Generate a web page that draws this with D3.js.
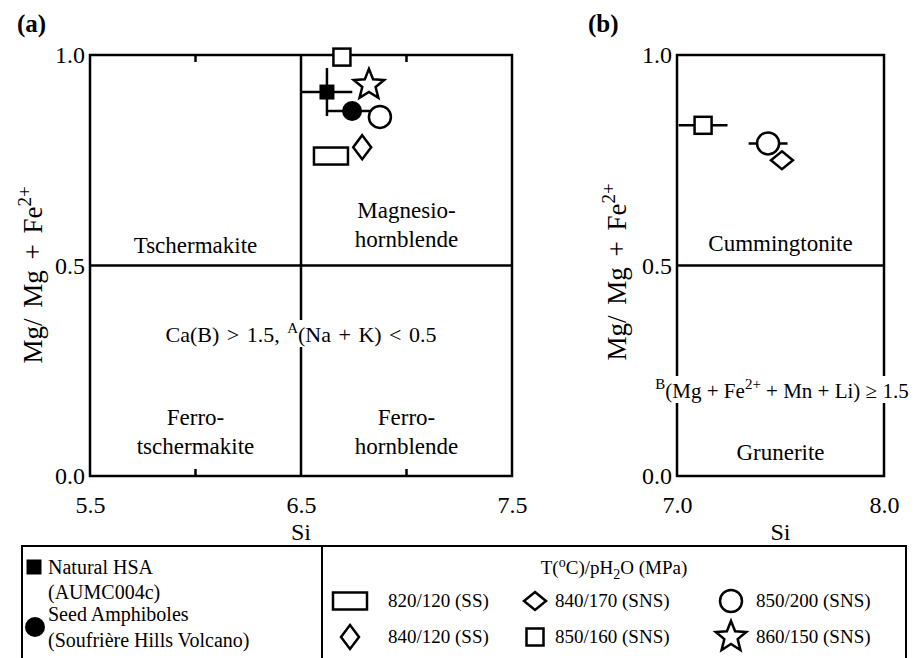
<!DOCTYPE html>
<html>
<head>
<meta charset="utf-8">
<script src="https://cdn.jsdelivr.net/npm/d3@7"></script>
<style>
  body { margin: 0; background: #fff; }
  svg text { font-family: "Liberation Serif", "Times New Roman", "DejaVu Serif", serif !important; fill: #000; }
</style>
</head>
<body>
<div id="chart"></div>
<script>
// series (one entry per experiment / sample)
var seriesNames = ["Natural HSA", "Seed Amphiboles", "820/120 (SS)", "840/120 (SS)", "840/170 (SNS)", "850/160 (SNS)", "850/200 (SNS)", "860/150 (SNS)"];
var seriesShapes = ["fsq", "fcirc", "rect", "tdia", "wdia", "sq", "circ", "star"];

// panel (a): calcic amphiboles
var aSi    = [6.623, 6.742, 6.642, 6.79, null, 6.694, 6.874, 6.822];
var aMg    = [0.912, 0.867, 0.760, 0.781, null, 0.995, 0.853, 0.929];
var aSiErr = [0.12, 0.115, 0, 0, 0, 0, 0, 0];
var aMgErr = [0.057, 0, 0, 0, 0, 0, 0, 0];

// panel (b): Fe-Mg amphiboles
var bSi    = [null, null, null, null, 7.507, 7.126, 7.44, null];
var bMg    = [null, null, null, null, 0.75, 0.833, 0.79, null];
var bSiErr = [0, 0, 0, 0, 0, 0.118, 0.094, 0];

var aXTicks = [5.5, 6.5, 7.5];
var aMinorTicks = [6.0, 7.0];
var bXTicks = [7.0, 8.0];
var yTicks = [0.0, 0.5, 1.0];

var width = 923, height = 658;
var svg = d3.select("#chart").append("svg")
    .attr("width", width)
    .attr("height", height);

var xA = d3.scaleLinear().domain([5.5, 7.5]).range([90, 512]);
var xB = d3.scaleLinear().domain([7.0, 8.0]).range([677, 884]);
var y = d3.scaleLinear().domain([0, 1]).range([476, 55]);

var SW = 2.5;

function drawMark(g, shape, cx, cy) {
    var p;
    if (shape == "fsq") {
        g.append("rect").attr("x", cx - 7.5).attr("y", cy - 7.5).attr("width", 15).attr("height", 15).attr("fill", "#000");
    } else if (shape == "fcirc") {
        g.append("circle").attr("cx", cx).attr("cy", cy).attr("r", 10).attr("fill", "#000");
    } else if (shape == "rect") {
        g.append("rect").attr("x", cx - 17).attr("y", cy - 8.5).attr("width", 34).attr("height", 17)
            .attr("fill", "#fff").attr("stroke", "#000").attr("stroke-width", SW);
    } else if (shape == "sq") {
        g.append("rect").attr("x", cx - 8.5).attr("y", cy - 8.5).attr("width", 17).attr("height", 17)
            .attr("fill", "#fff").attr("stroke", "#000").attr("stroke-width", SW);
    } else if (shape == "circ") {
        g.append("circle").attr("cx", cx).attr("cy", cy).attr("r", 11)
            .attr("fill", "#fff").attr("stroke", "#000").attr("stroke-width", SW);
    } else if (shape == "tdia" || shape == "wdia") {
        var w = shape == "tdia" ? 9 : 11, h = shape == "tdia" ? 12 : 9;
        p = d3.path();
        p.moveTo(cx, cy - h); p.lineTo(cx + w, cy); p.lineTo(cx, cy + h); p.lineTo(cx - w, cy); p.closePath();
        g.append("path").attr("d", p.toString()).attr("fill", "#fff").attr("stroke", "#000").attr("stroke-width", SW);
    } else if (shape == "star") {
        var pts = [];
        for (var i = 0; i < 10; i++) {
            var r = i % 2 == 0 ? 16 : 7;
            var a = -Math.PI / 2 + i * Math.PI / 5;
            pts.push([cx + r * Math.cos(a), cy + r * Math.sin(a)]);
        }
        g.append("path").attr("d", d3.line()(pts) + "Z")
            .attr("fill", "#fff").attr("stroke", "#000").attr("stroke-width", SW).attr("stroke-linejoin", "miter");
    }
}

function yLabel(x, cy) {
    var t = svg.append("text")
        .attr("transform", "translate(" + x + "," + cy + ") rotate(-90)")
        .attr("text-anchor", "middle")
        .style("font-size", "27px")
        .style("word-spacing", "4px");
    t.append("tspan").text("Mg/ Mg + Fe");
    t.append("tspan").attr("dy", -11).style("font-size", "19px").text("2+");
}

function panelFrame(x, xTicks, innerTicks) {
    var g = svg.append("g");
    var x0 = x.range()[0], x1 = x.range()[1];
    g.append("rect").attr("x", x0).attr("y", y(1)).attr("width", x1 - x0).attr("height", y(0) - y(1))
        .attr("fill", "none").attr("stroke", "#000").attr("stroke-width", SW);
    g.append("line").attr("x1", x0).attr("x2", x1).attr("y1", y(0.5)).attr("y2", y(0.5))
        .attr("stroke", "#000").attr("stroke-width", SW);

    // tick labels via axes
    var xa = svg.append("g").attr("transform", "translate(0," + y(0) + ")")
        .call(d3.axisBottom(x).tickValues(xTicks).tickSize(0).tickPadding(20).tickFormat(d3.format(".1f")));
    var ya = svg.append("g").attr("transform", "translate(" + x0 + ",0)")
        .call(d3.axisLeft(y).tickValues(yTicks).tickSize(0).tickPadding(5).tickFormat(d3.format(".1f")));
    [xa, ya].forEach(function(a) {
        a.select(".domain").remove();
        a.selectAll("text").style("font-size", "24px").attr("fill", "#000");
    });

    // small inward ticks on top and bottom edges
    if (innerTicks) {
        innerTicks.forEach(function(v) {
            g.append("line").attr("x1", x(v)).attr("x2", x(v)).attr("y1", y(0)).attr("y2", y(0) - 7)
                .attr("stroke", "#000").attr("stroke-width", SW);
            g.append("line").attr("x1", x(v)).attr("x2", x(v)).attr("y1", y(1)).attr("y2", y(1) + 7)
                .attr("stroke", "#000").attr("stroke-width", SW);
        });
    }

    svg.append("text").attr("x", (x0 + x1) / 2).attr("y", 540).attr("text-anchor", "middle")
        .style("font-size", "24px").text("Si");
    return g;
}

// ---------- panel (a) ----------
svg.append("text").attr("x", 17).attr("y", 32).style("font-size", "25px").style("font-weight", "bold").text("(a)");
panelFrame(xA, aXTicks, aMinorTicks);
svg.append("line").attr("x1", xA(6.5)).attr("x2", xA(6.5)).attr("y1", y(0)).attr("y2", y(1))
    .attr("stroke", "#000").attr("stroke-width", SW);
yLabel(42, 275);

function regionLabel(lines, cx, cy, size) {
    var t = svg.append("text").attr("text-anchor", "middle").style("font-size", size + "px");
    lines.forEach(function(l, i) {
        t.append("tspan").attr("x", cx).attr("y", cy + i * 29).text(l);
    });
}
regionLabel(["Tschermakite"], xA(6.0), 253, 23);
regionLabel(["Magnesio-", "hornblende"], xA(7.0), 218, 23);
regionLabel(["Ferro-", "tschermakite"], xA(6.0), 425, 23);
regionLabel(["Ferro-", "hornblende"], xA(7.0), 425, 23);

var caG = svg.append("g");
var caBg = caG.append("rect").attr("fill", "#fff");
var ca = caG.append("text").attr("x", xA(6.5)).attr("y", 342).attr("text-anchor", "middle")
    .style("font-size", "22px").style("word-spacing", "2px");
ca.append("tspan").text("Ca(B) > 1.5, ");
ca.append("tspan").attr("dy", -9).style("font-size", "15px").text("A");
ca.append("tspan").attr("dy", 9).text("(Na + K) < 0.5");
var cb = ca.node().getBBox();
caBg.attr("x", cb.x - 2).attr("y", cb.y).attr("width", cb.width + 4).attr("height", cb.height);

var gA = svg.append("g");
seriesNames.forEach(function(n, i) {
    if (aSi[i] == null) return;
    var cx = xA(aSi[i]), cy = y(aMg[i]);
    if (aSiErr[i]) gA.append("line").attr("x1", xA(aSi[i] - aSiErr[i])).attr("x2", xA(aSi[i] + aSiErr[i]))
        .attr("y1", cy).attr("y2", cy).attr("stroke", "#000").attr("stroke-width", SW);
    if (aMgErr[i]) gA.append("line").attr("x1", cx).attr("x2", cx)
        .attr("y1", y(aMg[i] - aMgErr[i])).attr("y2", y(aMg[i] + aMgErr[i])).attr("stroke", "#000").attr("stroke-width", SW);
});
seriesNames.forEach(function(n, i) {
    if (aSi[i] == null) return;
    drawMark(gA, seriesShapes[i], xA(aSi[i]), y(aMg[i]));
});

// ---------- panel (b) ----------
svg.append("text").attr("x", 588).attr("y", 32).style("font-size", "25px").style("font-weight", "bold").text("(b)");
panelFrame(xB, bXTicks, null);
yLabel(626, 272);
regionLabel(["Cummingtonite"], xB(7.5), 251, 23);
regionLabel(["Grunerite"], xB(7.5), 460, 23);

var mgG = svg.append("g");
var mgBg = mgG.append("rect").attr("fill", "#fff");
var mg = mgG.append("text").attr("x", 782).attr("y", 398).attr("text-anchor", "middle").style("font-size", "21px");
mg.append("tspan").attr("dy", -9).style("font-size", "15px").text("B");
mg.append("tspan").attr("dy", 9).text("(Mg + Fe");
mg.append("tspan").attr("dy", -9).style("font-size", "15px").text("2+");
mg.append("tspan").attr("dy", 9).text(" + Mn + Li) \u2265 1.5");
var mb = mg.node().getBBox();
mgBg.attr("x", mb.x - 2).attr("y", mb.y).attr("width", mb.width + 4).attr("height", mb.height);

var gB = svg.append("g");
seriesNames.forEach(function(n, i) {
    if (bSi[i] == null) return;
    var cy = y(bMg[i]);
    if (bSiErr[i]) gB.append("line").attr("x1", xB(bSi[i] - bSiErr[i])).attr("x2", xB(bSi[i] + bSiErr[i]))
        .attr("y1", cy).attr("y2", cy).attr("stroke", "#000").attr("stroke-width", SW);
});
seriesNames.forEach(function(n, i) {
    if (bSi[i] == null) return;
    drawMark(gB, seriesShapes[i], xB(bSi[i]), y(bMg[i]));
});

// ---------- legend ----------
var lg = svg.append("g");
lg.append("rect").attr("x", 22).attr("y", 546).attr("width", 884).attr("height", 130)
    .attr("fill", "none").attr("stroke", "#000").attr("stroke-width", 2);
lg.append("line").attr("x1", 322).attr("x2", 322).attr("y1", 546).attr("y2", 660)
    .attr("stroke", "#000").attr("stroke-width", 2);

drawMark(lg, "fsq", 34, 567);
drawMark(lg, "fcirc", 35, 627);
var lt = function(x, yy, s) {
    return lg.append("text").attr("x", x).attr("y", yy).style("font-size", "20px").text(s);
};
lt(48, 574, "Natural HSA");
lt(48, 599, "(AUMC004c)");
lt(48, 621, "Seed Amphiboles");
lt(48, 647, "(Soufri\u00e8re Hills Volcano)");

var tt = lg.append("text").attr("x", 614).attr("y", 574).attr("text-anchor", "middle").style("font-size", "19px");
tt.append("tspan").text("T(");
tt.append("tspan").attr("dy", -7).style("font-size", "14px").text("o");
tt.append("tspan").attr("dy", 7).text("C)/pH");
tt.append("tspan").attr("dy", 5).style("font-size", "14px").text("2");
tt.append("tspan").attr("dy", -5).text("O (MPa)");

// legend grid: column x positions and rows for the six experiment symbols
var legendCols = [350, 535, 731];
var legendRows = [601, 637];
var legendOrder = [2, 4, 6, 3, 5, 7];
legendOrder.forEach(function(si, k) {
    var cx = legendCols[k % 3], cy = legendRows[Math.floor(k / 3)];
    drawMark(lg, seriesShapes[si], cx, cy);
    lt(cx + (k % 3 == 0 ? 38 : (k % 3 == 1 ? 20 : 25)), cy + 6, seriesNames[si]).style("font-size", "19px");
});
</script>
</body>
</html>
